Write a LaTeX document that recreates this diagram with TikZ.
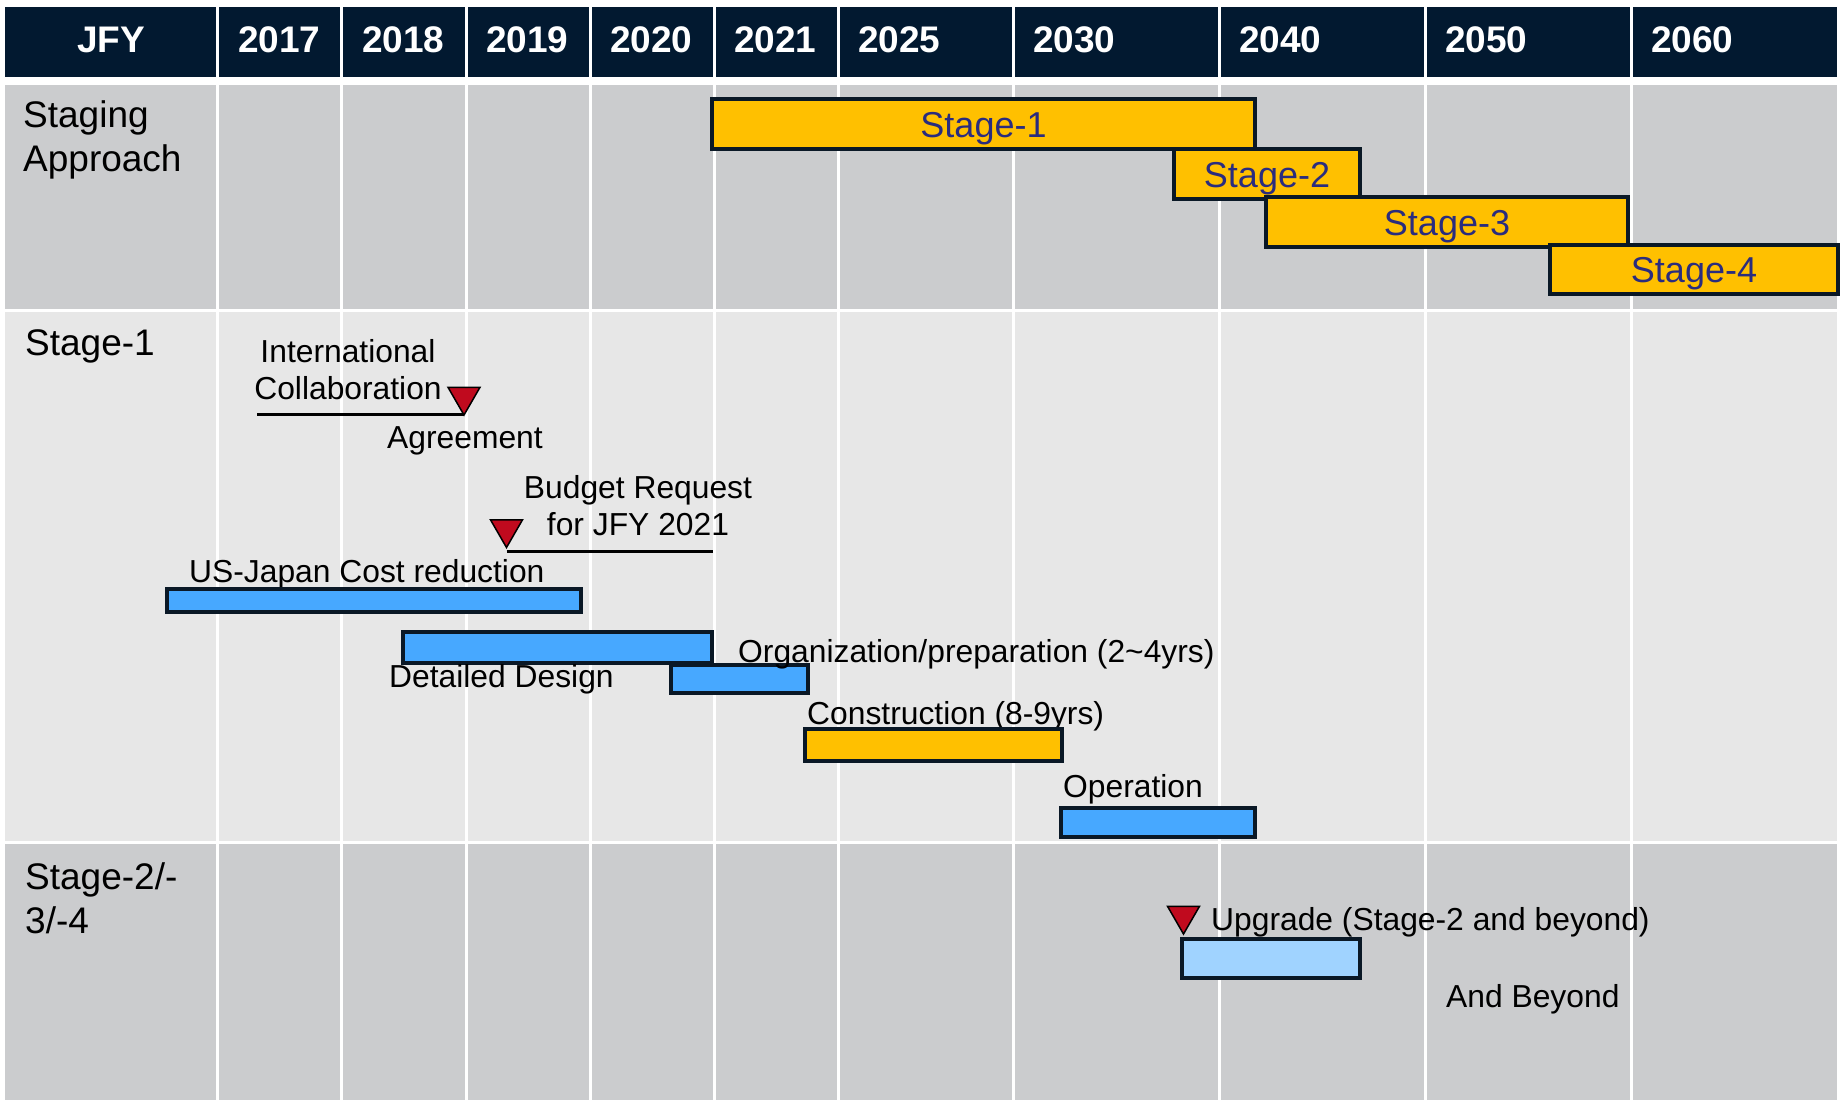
\documentclass[tikz,border=0pt]{standalone}
\usepackage{fontspec}
\setmainfont{Liberation Sans}
\usetikzlibrary{shapes.geometric}

\definecolor{headnavy}{RGB}{2,25,48}
\definecolor{rowgrey}{RGB}{203,204,206}
\definecolor{rowlight}{RGB}{231,231,231}
\definecolor{barline}{RGB}{10,24,38}
\definecolor{stageorange}{RGB}{255,192,0}
\definecolor{stagetext}{RGB}{42,44,126}
\definecolor{barblue}{RGB}{71,168,255}
\definecolor{barpale}{RGB}{160,211,255}
\definecolor{milered}{RGB}{192,10,30}

\tikzset{
  bar/.style={draw=barline, line width=3.4pt, inner sep=0pt, outer sep=0pt, anchor=north west},
  stagebar/.style={bar, fill=stageorange, text=stagetext, text height=26pt, text depth=0pt,
    font=\fontsize{36}{40}\selectfont},
  taskbar/.style={bar, fill=barblue},
  rowlabel/.style={inner sep=0pt, align=left, anchor=north west, font=\fontsize{37}{44}\selectfont},
  yearlabel/.style={inner sep=0pt, anchor=base west, text=white, font=\bfseries\fontsize{37}{44}\selectfont},
  tasklabel/.style={inner sep=0pt, anchor=base west, font=\fontsize{31.8}{37}\selectfont},
  milestone/.style={regular polygon, regular polygon sides=3, shape border rotate=180, draw=black,
    line width=1.5pt, fill=milered, minimum size=37pt, inner sep=0pt},
  rule/.style={line width=3pt, black},
  gridline/.style={white, line width=3pt}
}

\begin{document}
\begin{tikzpicture}[x=1pt,y=-1pt]
    \useasboundingbox (0,0) rectangle (1845,1103);
    % bands
    \fill[headnavy] (5,7) rectangle (1837,77);
    \fill[rowgrey] (5,85) rectangle (1837,309);
    \fill[rowlight] (5,312) rectangle (1837,841);
    \fill[rowgrey] (5,844) rectangle (1837,1100);
    \foreach \x in {217.5,341.5,466,590,714,838,1013,1219,1425,1631}
        \draw[gridline] (\x,7) -- (\x,1100);
    % header
    \node[yearlabel, anchor=base] (jfy) at (111,52) {JFY};
    \foreach \xl/\yr in {218/2017,342/2018,466/2019,590/2020,714/2021,838/2025,1013/2030,1219/2040,1425/2050,1631/2060}
        \node[yearlabel] (y\yr) at (\xl+20,52) {\yr};
    % row labels
    \node[rowlabel] (staging) at (23,100) {Staging\\Approach};
    \node[rowlabel, anchor=base west] (stageone) at (25,355) {Stage-1};
    \node[rowlabel] (stagelater) at (25,862) {Stage-2/-\\3/-4};
    % staging approach
    \node[stagebar, minimum width=543pt, minimum height=50pt] (s1) at (712,99) {Stage-1};
    \node[stagebar, minimum width=186pt, minimum height=50pt] (s2) at (1174,149) {Stage-2};
    \node[stagebar, minimum width=362pt, minimum height=50pt] (s3) at (1266,197) {Stage-3};
    \node[stagebar, minimum width=288pt, minimum height=49pt] (s4) at (1550,245) {Stage-4};
    % stage-1 milestones
    \node[tasklabel, anchor=north, align=center] (collab) at (348,339) {International\\Collaboration};
    \node[milestone] (tri-agree) at (464,396.5) {};
    \coordinate (collab-end) at (257,414);
    \draw[rule] (collab-end) -- (collab-end -| tri-agree.south);
    \node[tasklabel, anchor=base] (agree) at (465,448) {Agreement};
    \node[tasklabel, anchor=north, align=center] (budget) at (638,475) {Budget Request\\for JFY 2021};
    \node[milestone] (tri-budget) at (506.5,529) {};
    \coordinate (budget-end) at (713,551);
    \draw[rule] (budget-end -| tri-budget.south) -- (budget-end);
    % stage-1 tasks
    \node[tasklabel] (costlbl) at (189,582) {US-Japan Cost reduction};
    \node[taskbar, minimum width=414pt, minimum height=23pt] (cost) at (167,589) {};
    \node[taskbar, minimum width=309pt, minimum height=31pt] (design) at (403,632) {};
    \node[tasklabel] (designlbl) at (389,687) {Detailed Design};
    \node[taskbar, minimum width=137pt, minimum height=28pt] (prep) at (671,665) {};
    \node[tasklabel] (preplbl) at (738,662) {Organization/preparation (2\textasciitilde4yrs)};
    \node[tasklabel] (buildlbl) at (807,724) {Construction (8-9yrs)};
    \node[bar, fill=stageorange, minimum width=257pt, minimum height=32pt] (build) at (805,729) {};
    \node[tasklabel] (oplbl) at (1063,797) {Operation};
    \node[taskbar, minimum width=194pt, minimum height=29pt] (op) at (1061,808) {};
    % later stages
    \node[milestone] (tri-upgrade) at (1183.5,915.5) {};
    \node[tasklabel] (upgradelbl) at (1211,930) {Upgrade (Stage-2 and beyond)};
    \node[bar, fill=barpale, minimum width=178pt, minimum height=39pt] (upgrade) at (1182,939) {};
    \node[tasklabel] (beyond) at (1446,1007) {And Beyond};
\end{tikzpicture}
\end{document}
